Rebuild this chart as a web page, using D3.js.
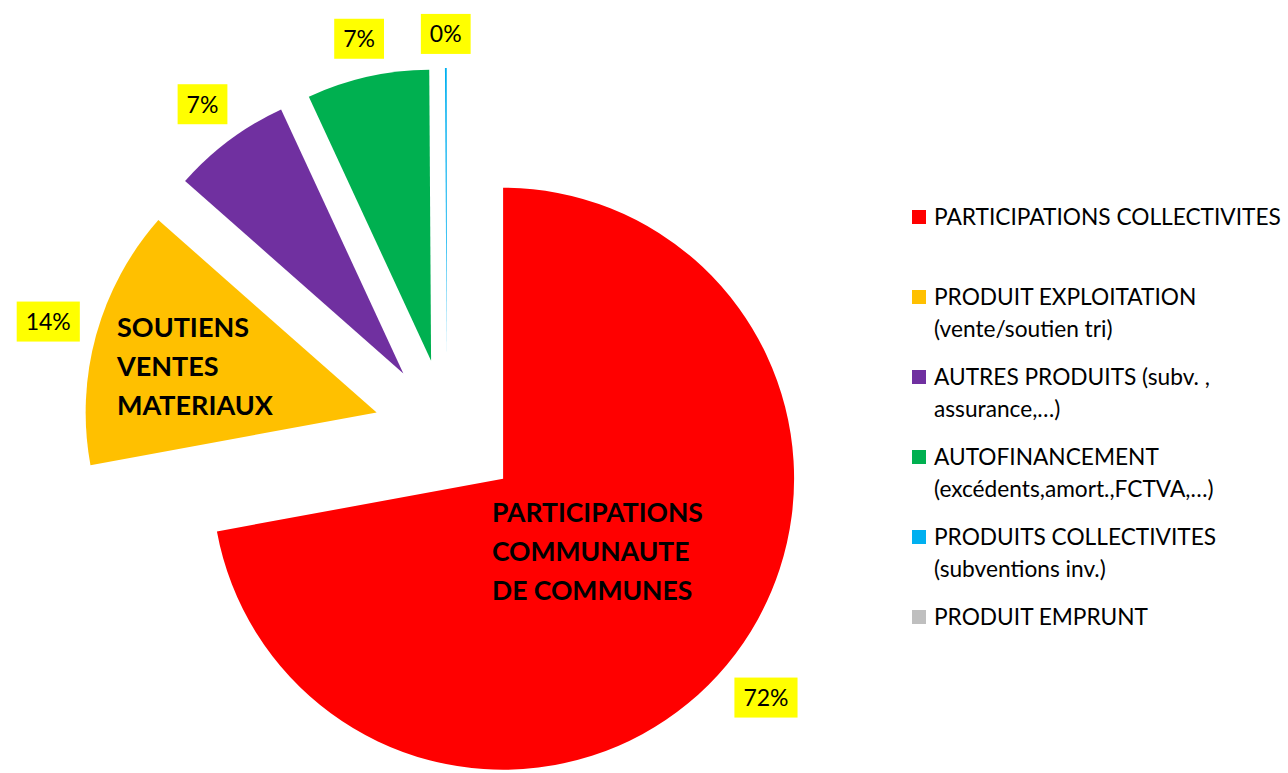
<html>

<head>
  <script src="https://d3js.org/d3.v7.min.js"></script>
  <style>
    body { margin: 0; background: #fff; }
    text { font-family: Lato, "Open Sans", sans-serif; fill: #000; }
  </style>
</head>

<body>
  <svg id="chart" width="1288" height="773"></svg>

  <script>
    // data (percent of total)
    const categories = ["PARTICIPATIONS COLLECTIVITES", "PRODUIT EXPLOITATION (vente/soutien tri)",
      "AUTRES PRODUITS (subv. , assurance,…)", "AUTOFINANCEMENT (excédents,amort.,FCTVA,…)",
      "PRODUITS COLLECTIVITES (subventions inv.)", "PRODUIT EMPRUNT"];
    const values = [72.1, 14.4, 6.6, 6.8, 0.1, 0];
    const colors = ["#FF0000", "#FFC000", "#7030A0", "#00B050", "#00B0F0", "#BFBFBF"];
    const legendLines = [
      ["PARTICIPATIONS COLLECTIVITES"],
      ["PRODUIT EXPLOITATION", "(vente/soutien tri)"],
      ["AUTRES PRODUITS (subv. ,", "assurance,…)"],
      ["AUTOFINANCEMENT", "(excédents,amort.,FCTVA,…)"],
      ["PRODUITS COLLECTIVITES", "(subventions inv.)"],
      ["PRODUIT EMPRUNT"]
    ];
    const innerLabels = [
      ["PARTICIPATIONS", "COMMUNAUTE", "DE COMMUNES"],
      ["SOUTIENS", "VENTES", "MATERIAUX"]
    ];

    let svg = d3.select("svg#chart");
    let cx = 447, cy = 432, radius = 291, explode = 73;

    const total = d3.sum(values);
    const pie = d3.pie().sort(null).value(d => d)(values);
    const arc = d3.arc().innerRadius(0).outerRadius(radius);
    const pct = d3.format(".0%");

    // unit vector from the pie centre through the middle of a slice
    const dir = d => {
      let m = (d.startAngle + d.endAngle) / 2;
      return [Math.sin(m), -Math.cos(m)];
    };
    const apex = d => {
      let u = dir(d);
      return [cx + explode * u[0], cy + explode * u[1]];
    };

    let slices = svg.append('g');
    slices.selectAll("path")
      .data(pie)
      .join("path")
      .attr("transform", d => `translate(${apex(d)})`)
      .attr("fill", (d, i) => colors[i])
      .attr("d", arc);

    // manual text boxes inside the two biggest slices
    let innerPos = [[492, 522], [117, 337]];
    let innerSize = [26.5, 27];
    innerLabels.forEach((lines, i) => {
      lines.forEach((t, j) => {
        svg.append("text")
          .attr("x", innerPos[i][0])
          .attr("y", innerPos[i][1] + 39 * j)
          .style("font-size", innerSize[i] + "px")
          .style("font-weight", "bold")
          .text(t);
      });
    });

    // percentage labels, outside end with yellow fill
    let labels = svg.append('g');
    pie.forEach((d, i) => {
      if (values[i] === 0) return;
      let g = labels.append('g');
      let rect = g.append("rect").attr("fill", "#FFFF00");
      let txt = g.append("text")
        .attr("text-anchor", "middle")
        .attr("dy", "0.36em")
        .style("font-size", "23px")
        .text(pct(d.value / total));
      let w = txt.node().getBBox().width + 18;
      let h = 40;
      let u = dir(d);
      let a = apex(d);
      let ext = Math.abs(u[0]) * w / 2 + Math.abs(u[1]) * h / 2;
      let dist = radius + 14 + ext;
      let px = a[0] + dist * u[0], py = a[1] + dist * u[1];
      g.attr("transform", `translate(${px}, ${py})`);
      rect.attr("x", -w / 2).attr("y", -h / 2).attr("width", w).attr("height", h);
    });

    // legend
    let legend = svg.append('g').attr("transform", "translate(912, 217)");
    legendLines.forEach((lines, i) => {
      legend.append("rect")
        .attr("x", 0)
        .attr("y", 80 * i - 7)
        .attr("width", 14)
        .attr("height", 14)
        .style("fill", colors[i]);
      lines.forEach((t, j) => {
        legend.append("text")
          .attr("x", 22)
          .attr("y", 80 * i + 7.5 + 32 * j)
          .style("font-size", "22.7px")
          .text(t);
      });
    });
  </script>
</body>

</html>
